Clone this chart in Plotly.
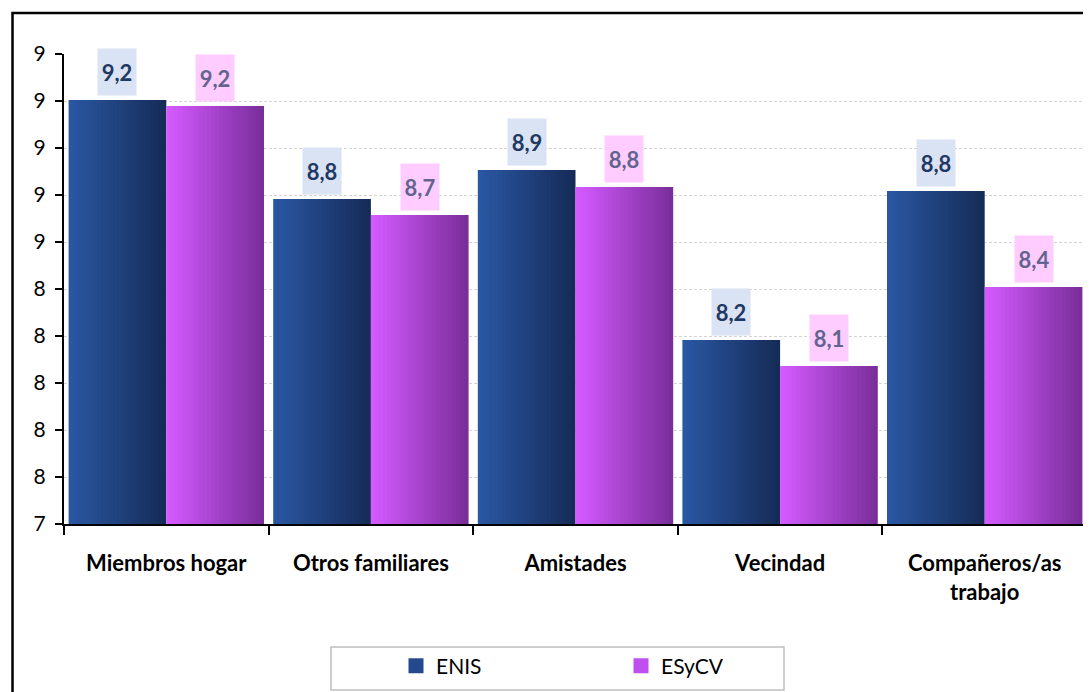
import plotly.graph_objects as go

# ---------------- data ----------------
categories = ["Miembros hogar", "Otros familiares", "Amistades", "Vecindad", "Compañeros/as<br>trabajo"]
enis = [9.204, 8.783, 8.906, 8.183, 8.817]
esycv = [9.179, 8.715, 8.834, 8.072, 8.409]
series_names = ["ENIS", "ESyCV"]
y_tickvals = [7.4, 7.6, 7.8, 8.0, 8.2, 8.4, 8.6, 8.8, 9.0, 9.2, 9.4]

# ---------------- styling ----------------
FONT = "Lato"
grad = {
    "ENIS": ((42, 87, 162), (22, 44, 88)),
    "ESyCV": ((212, 90, 255), (122, 46, 155)),
}
legend_col = {"ENIS": "#25498F", "ESyCV": "#C050EE"}
label_style = {
    "ENIS": dict(bg="#DAE3F3", fg="#1F3864"),
    "ESyCV": dict(bg="#FFCCFF", fg="#62648F"),
}
bargap = 0.045
barw = (1 - bargap) / 2
N = 24
sw = barw / N

# page body has an 8px default margin -> compensate
OFF = 8
ML, MT = 64 - OFF, 54 - OFF
PW, PH = 1023, 470


def px_x(x):  # screen px -> paper
    return (x - 64) / PW


def px_y(y):
    return (54 + PH - y) / PH


def lerp(c1, c2, t):
    return "rgb(%d,%d,%d)" % tuple(round(a + (b - a) * t) for a, b in zip(c1, c2))


fig = go.Figure()
for s, (name, vals) in enumerate(zip(series_names, [enis, esycv])):
    c_left, c_right = grad[name]
    for i in range(N):
        t = i / (N - 1)
        w = sw * (1.25 if i < N - 1 else 1.0)
        fig.add_bar(
            x=categories, y=vals, width=w, offset=-barw + s * barw + i * sw,
            marker=dict(color=lerp(c_left, c_right, t), line=dict(width=0)),
            name=name, legendgroup=name, showlegend=False, hoverinfo="skip",
        )
    # legend entry
    fig.add_scatter(x=[categories[0]], y=[None], mode="markers", name=name, legendgroup=name,
                    marker=dict(color=legend_col[name], symbol="square", size=15, line=dict(width=0)),
                    showlegend=True)

# data labels
for s, (name, vals) in enumerate(zip(series_names, [enis, esycv])):
    st = label_style[name]
    for i, v in enumerate(vals):
        fig.add_annotation(
            x=i - barw / 2 + s * barw, y=v, xref="x", yref="y",
            text="<b>%s</b>" % f"{v:.1f}".replace(".", ","),
            showarrow=False, yanchor="bottom", yshift=4,
            width=36, height=44, bgcolor=st["bg"],
            font=dict(family=FONT, size=22, color=st["fg"]),
        )

# legend box and outer frame
fig.add_shape(type="rect", xref="paper", yref="paper",
              x0=px_x(331), x1=px_x(784), y0=px_y(647), y1=px_y(690),
              line=dict(color="#BFBFBF", width=1.5), fillcolor="rgba(0,0,0,0)")
fig.add_shape(type="rect", xref="paper", yref="paper",
              x0=px_x(12.5), x1=1.2, y0=-0.6, y1=px_y(13),
              line=dict(color="black", width=2.5), fillcolor="rgba(0,0,0,0)")

fig.update_layout(
    width=1091, height=692,
    margin=dict(l=ML, r=1091 - ML - PW, t=MT, b=692 - MT - PH),
    paper_bgcolor="white", plot_bgcolor="white",
    barmode="overlay", bargap=bargap,
    font=dict(family=FONT, color="black"),
    showlegend=True,
    legend=dict(orientation="h", x=px_x(396), xanchor="left",
                y=px_y(666), yanchor="middle",
                entrywidth=180, bgcolor="rgba(0,0,0,0)",
                font=dict(family=FONT, size=21, color="black"),
                itemclick=False),
    xaxis=dict(
        type="category", showline=True, linecolor="black", linewidth=2,
        ticks="outside", tickson="boundaries", ticklen=9, tickwidth=2, tickcolor="black",
        ticklabelstandoff=19, showgrid=False,
        tickfont=dict(family=FONT, size=22, color="black", weight="bold"),
    ),
    yaxis=dict(
        range=[7.4, 9.4], tickvals=y_tickvals, tickformat=".0f",
        showline=True, linecolor="black", linewidth=2,
        ticks="outside", ticklen=7, tickwidth=2, tickcolor="black",
        ticklabelstandoff=5, zeroline=False,
        showgrid=True, gridcolor="#D4D4D4", gridwidth=1, griddash="3px,2px",
        tickfont=dict(family=FONT, size=21, color="black"),
    ),
)

fig.write_html("out.html")
